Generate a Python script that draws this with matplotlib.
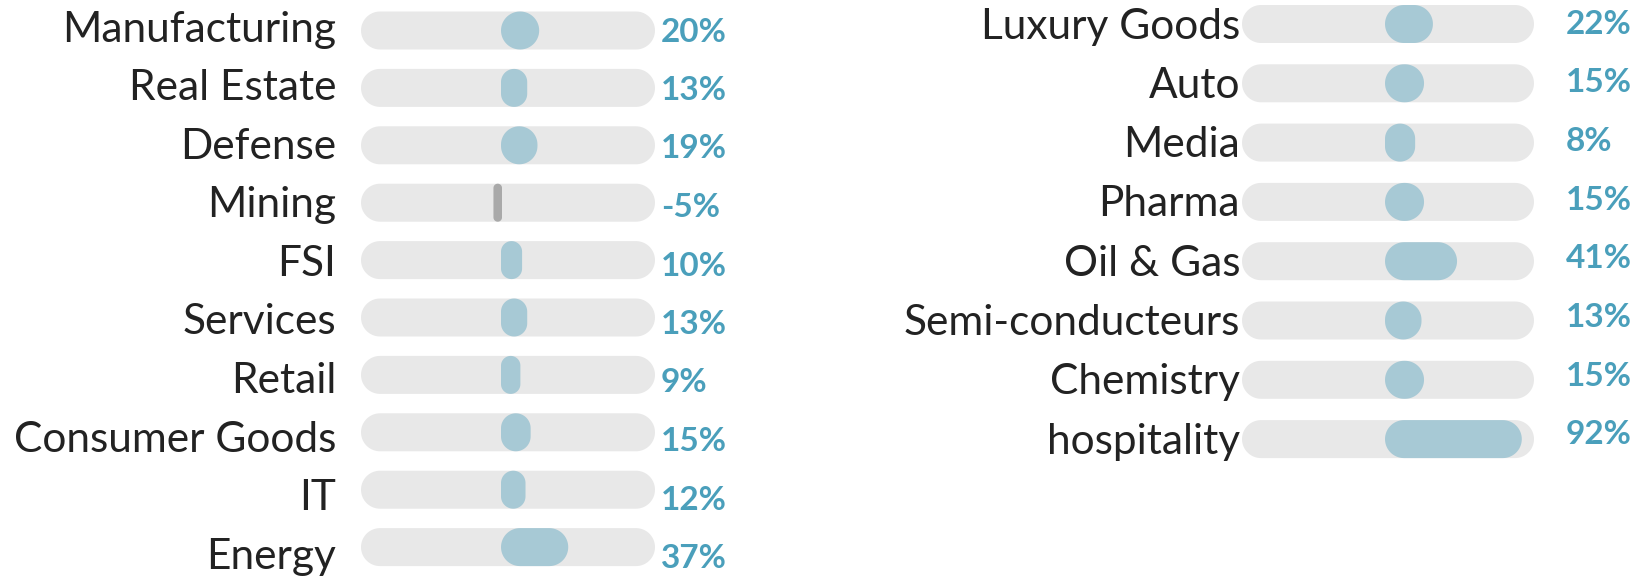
import numpy as np
import matplotlib
matplotlib.use("Agg")
import matplotlib.pyplot as plt
from matplotlib.patches import Polygon

# ---- data ----
left_categories = ["Manufacturing", "Real Estate", "Defense", "Mining", "FSI",
                   "Services", "Retail", "Consumer Goods", "IT", "Energy"]
left_values = [20, 13, 19, -5, 10, 13, 9, 15, 12, 37]

right_categories = ["Luxury Goods", "Auto", "Media", "Pharma", "Oil & Gas",
                    "Semi-conducteurs", "Chemistry", "hospitality"]
right_values = [22, 15, 8, 15, 41, 13, 15, 92]

# ---- style ----
TRACK = "#e8e8e8"
BAR = "#a7c9d5"
NEG = "#a9a9a9"
VAL = "#4a9fbb"
TXT = "#222222"
FONT = ["Lato", "DejaVu Sans"]

W, H = 1642, 581
fig = plt.figure(figsize=(W / 100, H / 100), dpi=100)


def pill(ax, x0, x1, yc, h_px, color, xpp, ypp, z):
    """rounded rectangle; x0,x1 in data, yc in data, height in px."""
    w_px = (x1 - x0) / xpp
    r = min(h_px / 2, w_px / 2)
    pts = []
    n = 16
    cx_l, cx_r = r, w_px - r
    for cx, cy, a0 in [(cx_r, h_px / 2 - r, 0), (cx_l, h_px / 2 - r, 90),
                       (cx_l, -h_px / 2 + r, 180), (cx_r, -h_px / 2 + r, 270)]:
        for a in np.linspace(np.radians(a0), np.radians(a0 + 90), n):
            pts.append((cx + r * np.cos(a), cy + r * np.sin(a)))
    pts = np.array(pts)
    xs = x0 + pts[:, 0] * xpp
    ys = yc - pts[:, 1] * ypp
    ax.add_patch(Polygon(np.column_stack([xs, ys]), closed=True,
                         facecolor=color, edgecolor="none", zorder=z))


def panel(cats, vals, ax_left_px, ax_right_px, row0_px, row_step_px, half_dom,
          start_px, end_px, label_gap_px, val_gap_px, lab_dy, val_dy):
    ax = fig.add_axes([ax_left_px / W, 0, (ax_right_px - ax_left_px) / W, 1])
    ax.set_xlim(-half_dom, half_dom)
    ymin = -row0_px / row_step_px
    ymax = (H - row0_px) / row_step_px
    ax.set_ylim(ymax, ymin)
    ax.axis("off")
    xpp = (2 * half_dom) / (ax_right_px - ax_left_px)
    ypp = (ymax - ymin) / H
    h_px = 38
    for i, (c, v) in enumerate(zip(cats, vals)):
        pill(ax, -half_dom, half_dom, i, h_px, TRACK, xpp, ypp, 1)
        if v >= 0:
            x0 = start_px * xpp
            x1 = v + end_px * xpp
            pill(ax, x0, x1, i, h_px, BAR, xpp, ypp, 2)
        else:
            x1 = (start_px + 1) * xpp
            x0 = x1 + v
            pill(ax, x0, x1, i, h_px, NEG, xpp, ypp, 2)
        ax.annotate(c, xy=(0, i), xycoords=("axes fraction", "data"),
                    xytext=(-label_gap_px * 0.72, -lab_dy(i) * 0.72),
                    textcoords="offset points", ha="right", va="center",
                    fontsize=30.5, color=TXT, family=FONT, annotation_clip=False)
        ax.annotate(f"{v}%", xy=(1, i), xycoords=("axes fraction", "data"),
                    xytext=(val_gap_px * 0.72, -val_dy(i) * 0.72),
                    textcoords="offset points", ha="left", va="center",
                    fontsize=24.0, color=VAL, family=FONT, fontweight="bold",
                    annotation_clip=False)
    return ax


panel(left_categories, left_values, 361, 655, 30.5, 57.4, 86.0,
      -7, -3, 25, 6, lambda i: -0.5 + 1.1 * i, lambda i: 1.5 + 1.1 * i)
panel(right_categories, right_values, 1242, 1534, 24, 59.3, 115.0,
      -3, 17, 2, 32, lambda i: 2.5, lambda i: -0.6 * i)

fig.savefig("out.png", dpi=100, facecolor="white")
